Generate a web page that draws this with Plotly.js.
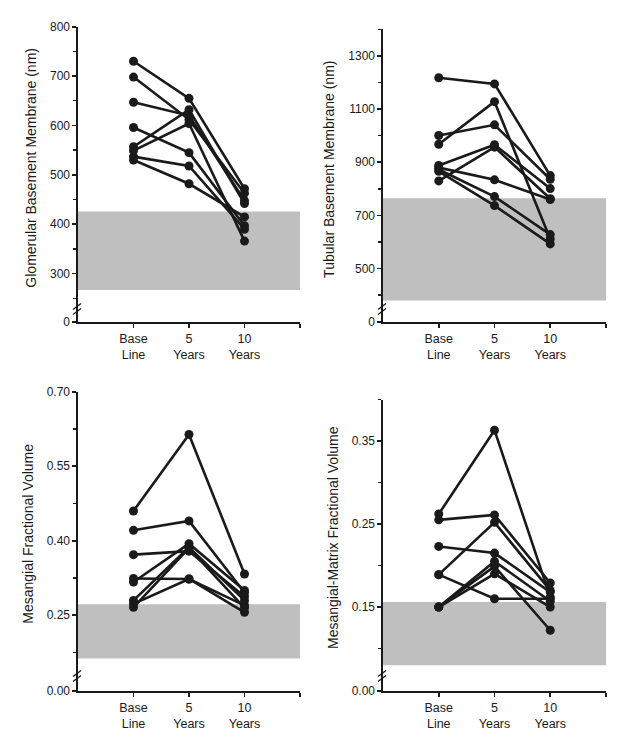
<!DOCTYPE html>
<html>
<head>
<meta charset="utf-8">
<script src="https://cdn.plot.ly/plotly-3.0.1.min.js"></script>
<style>html,body{margin:0;padding:0;background:#fff;}#chart{width:629px;height:750px;}</style>
</head>
<body>
<div id="chart"></div>
<script>
// ---- data ----
const categories = ['Base Line', '5 Years', '10 Years'];
const catLabels = ['Base<br>Line', '5<br>Years', '10<br>Years'];
const catPos = [1, 2, 3];

// Glomerular basement membrane (nm): [baseline, 5 yr, 10 yr] per patient
const gbm = [
  [730, 655, 472], [698, 612, 463], [647, 620, 448], [596, 545, 397],
  [557, 632, 442], [549, 604, 366], [537, 518, 390], [530, 482, 415]
];
// Tubular basement membrane (nm)
const tbm = [
  [1218, 1195, 850], [1001, 1041, 836], [968, 1128, 611], [888, 966, 801],
  [880, 834, 760], [873, 771, 628], [866, 737, 593], [830, 957, 763]
];
// Mesangial fractional volume
const mesangial = [
  [0.460, 0.614, 0.333], [0.421, 0.440, 0.296], [0.372, 0.379, 0.288], [0.324, 0.323, 0.270],
  [0.317, 0.394, 0.300], [0.280, 0.387, 0.280], [0.273, 0.323, 0.256], [0.266, 0.385, 0.265]
];
// Mesangial-matrix fractional volume
const matrix = [
  [0.262, 0.363, 0.162], [0.255, 0.261, 0.179], [0.223, 0.215, 0.168], [0.189, 0.252, 0.170],
  [0.189, 0.160, 0.160], [0.150, 0.199, 0.122], [0.150, 0.190, 0.150], [0.150, 0.205, 0.157]
];
// Normal ranges (grey bands)
const gbmNormal = [267, 426];
const tbmNormal = [380, 765];
const mesangialNormal = [0.163, 0.272];
const matrixNormal = [0.080, 0.156];

const titles = [
  'Glomerular Basement Membrane (nm)',
  'Tubular Basement Membrane (nm)',
  'Mesangial Fractional Volume',
  'Mesangial-Matrix Fractional Volume'
];

// ---- layout helpers ----
const W = 629, H = 750;
const px = v => v / W;
const py = v => 1 - v / H;
const FONT = 'Liberation Sans, Arial, Helvetica, sans-serif';
const INK = '#1a1a1a';

const panels = [
  {data: gbm, normal: gbmNormal, title: titles[0], xl: 78, xr: 300, top: 26.7, brk: 309, zero: 322,
   range: [228.5, 800], tick0: 0, dtick: 100, mdtick: 50, mtick0: 0, fmt: '', zeroText: '0'},
  {data: tbm, normal: tbmNormal, title: titles[1], xl: 383, xr: 606, top: 29.4, brk: 309, zero: 322,
   range: [348, 1400], tick0: 100, dtick: 200, mdtick: 100, mtick0: 0, fmt: '', zeroText: '0'},
  {data: mesangial, normal: mesangialNormal, title: titles[2], xl: 78, xr: 300, top: 391.7, brk: 676, zero: 691,
   range: [0.1278, 0.70], tick0: 0.25, dtick: 0.15, mdtick: 0.075, mtick0: 0.025, fmt: '.2f', zeroText: '0.00'},
  {data: matrix, normal: matrixNormal, title: titles[3], xl: 383, xr: 606, top: 399.5, brk: 676, zero: 691,
   range: [0.0669, 0.40], tick0: 0.05, dtick: 0.1, mdtick: 0.05, mtick0: 0, fmt: '.2f', zeroText: '0.00'}
];

const traces = [];
const layout = {
  width: W, height: H,
  margin: {l: 0, r: 0, t: 0, b: 0},
  paper_bgcolor: '#fff', plot_bgcolor: 'rgba(0,0,0,0)',
  showlegend: false,
  font: {family: FONT, size: 12, color: INK},
  shapes: []
};

panels.forEach((p, i) => {
  const n = i + 1;
  const xName = n === 1 ? 'x' : 'x' + n;
  const yName = n === 1 ? 'y' : 'y' + n;
  const yLow = 'y' + (n + 4);
  const xKey = n === 1 ? 'xaxis' : 'xaxis' + n;
  const yKey = n === 1 ? 'yaxis' : 'yaxis' + n;
  const yLowKey = 'yaxis' + (n + 4);

  p.data.forEach(vals => {
    traces.push({
      type: 'scatter', mode: 'lines+markers',
      x: catPos, y: vals, text: categories,
      xaxis: xName, yaxis: yName,
      line: {color: INK, width: 2.6},
      marker: {color: INK, size: 9},
      cliponaxis: false,
      hoverinfo: 'text+y'
    });
  });
  // empty trace so the lower (broken-axis) subplot is created
  traces.push({type: 'scatter', mode: 'markers', x: [], y: [], xaxis: xName, yaxis: yLow, hoverinfo: 'skip'});

  layout[xKey] = {
    domain: [px(p.xl), px(p.xr)], anchor: yLow,
    range: [0, 4], tickvals: [...catPos, 4], ticktext: [...catLabels, ''],
    showline: true, linecolor: INK, linewidth: 1.6,
    ticks: 'outside', ticklen: 4, tickwidth: 1.6, tickcolor: INK,
    showgrid: false, zeroline: false, fixedrange: true,
    tickfont: {family: FONT, size: 12.5, color: INK}
  };
  layout[yKey] = {
    domain: [py(p.brk), py(p.top)], anchor: xName,
    range: p.range, tick0: p.tick0, dtick: p.dtick, tickformat: p.fmt,
    showline: true, linecolor: INK, linewidth: 1.6,
    ticks: 'outside', ticklen: 4, tickwidth: 1.6, tickcolor: INK,
    minor: {tick0: p.mtick0, dtick: p.mdtick, ticks: 'outside', ticklen: 3, tickwidth: 1.4, tickcolor: INK},
    showgrid: false, zeroline: false, fixedrange: true,
    tickfont: {family: FONT, size: 12, color: INK},
    title: {text: p.title, font: {family: FONT, size: 14, color: INK}, standoff: 10}
  };
  layout[yLowKey] = {
    domain: [py(p.zero), py(p.brk)], anchor: xName,
    range: [0, 1], tickvals: [0], ticktext: [p.zeroText],
    showline: true, linecolor: INK, linewidth: 1.6,
    ticks: 'outside', ticklen: 4, tickwidth: 1.6, tickcolor: INK,
    showgrid: false, zeroline: false, fixedrange: true,
    tickfont: {family: FONT, size: 12, color: INK}
  };

  // normal-range band
  layout.shapes.push({
    type: 'rect', layer: 'below', xref: xName, yref: yName,
    x0: 0, x1: 4, y0: p.normal[0], y1: p.normal[1],
    fillcolor: '#bfbfbf', line: {width: 0}
  });
  // axis break marks
  [-2.5, 2.5].forEach(d => {
    layout.shapes.push({
      type: 'line', layer: 'above', xref: 'paper', yref: 'paper',
      x0: px(p.xl - 5), y0: py(p.brk + d + 3), x1: px(p.xl + 3), y1: py(p.brk + d - 3),
      line: {color: INK, width: 1.4}
    });
  });
});

Plotly.newPlot('chart', traces, layout, {staticPlot: true, displayModeBar: false});
</script>
</body>
</html>
